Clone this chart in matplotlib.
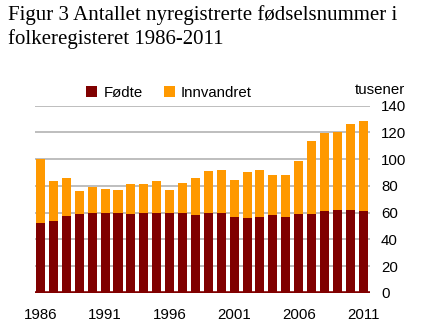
import matplotlib
matplotlib.use("Agg")
import matplotlib.pyplot as plt
import numpy as np

years = list(range(1986, 2012))
fodte = [52.5, 53.5, 57.2, 59.0, 60.0, 60.0, 60.0, 59.0, 60.0, 60.0, 60.0, 59.5,
         58.5, 59.5, 59.5, 56.8, 55.7, 56.8, 58.2, 56.8, 59.0, 59.0, 61.2, 61.9, 61.9, 61.2]
totals = [100.2, 83.6, 86.0, 76.1, 79.3, 78.1, 77.1, 81.8, 81.8, 83.6, 77.1, 81.9,
          86.0, 91.1, 92.0, 84.3, 90.1, 92.0, 88.2, 88.2, 98.3, 113.5, 119.8, 120.7, 126.7, 128.7]
innvandret = [t - f for t, f in zip(totals, fodte)]
xtick_years = [1986, 1991, 1996, 2001, 2006, 2011]
yticks = [0, 20, 40, 60, 80, 100, 120, 140]

c_fodte = "#800000"
c_inn = "#FF9900"

fig = plt.figure(figsize=(4.41, 3.34), dpi=100)
ax = fig.add_axes([0.0794, 0.1228, 0.7596, 0.5607])

ax.bar(years, fodte, width=0.7, color=c_fodte, label="Fødte", zorder=3)
ax.bar(years, innvandret, width=0.7, bottom=fodte, color=c_inn, label="Innvandret", zorder=3)

ax.set_xlim(1985.57, 2011.53)
ax.set_ylim(0, 140)
ax.yaxis.tick_right()
ax.set_yticks(yticks)
ax.set_xticks(xtick_years)
ax.tick_params(axis="both", length=0, labelsize=10.8, labelcolor="#000000")
ax.tick_params(axis="x", pad=11)
ax.tick_params(axis="y", pad=8)
for lab in ax.get_xticklabels() + ax.get_yticklabels():
    lab.set_fontfamily("Liberation Sans")
ax.grid(axis="y", color="#BEBEBE", linewidth=1.4, zorder=0)
ax.set_axisbelow(True)
for s in ax.spines.values():
    s.set_visible(False)
ax.axhline(0, color=c_fodte, linewidth=2.6, zorder=4)

leg = ax.legend(loc="center", bbox_to_anchor=(169 / 441, 1 - 93 / 334), bbox_transform=fig.transFigure,
                ncol=2, frameon=False, handlelength=0.75, handleheight=0.75,
                handletextpad=0.4, columnspacing=1.4,
                prop={"family": "Liberation Sans", "size": 10.8})

fig.text(405 / 441, 1 - 90 / 334, "tusener", ha="right", va="center",
         fontsize=10.8, family="Liberation Sans")

fig.text(8 / 441, 1 - 15 / 334, "Figur 3 Antallet nyregistrerte fødselsnummer i",
         ha="left", va="center", fontsize=15, family="Liberation Serif")
fig.text(8 / 441, 1 - 39 / 334, "folkeregisteret 1986-2011",
         ha="left", va="center", fontsize=15, family="Liberation Serif")

fig.savefig("out.png", dpi=100)
